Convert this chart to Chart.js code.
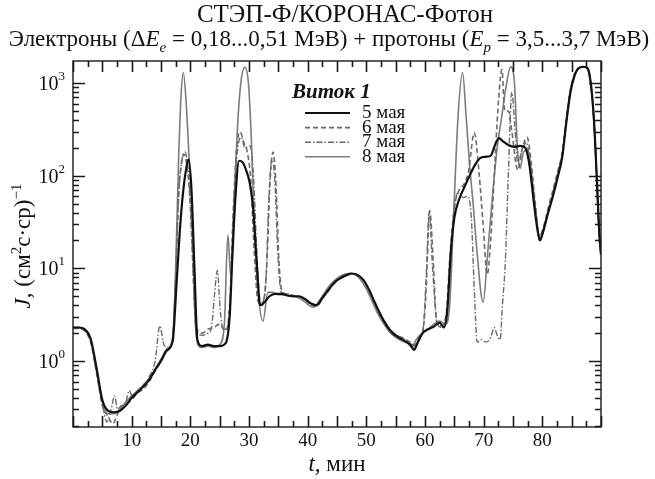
<!DOCTYPE html>
<html>
<head>
<meta charset="utf-8">
<script src="https://cdn.jsdelivr.net/npm/chart.js@4"></script>
<style>
  body { margin: 0; background: #fff; }
  canvas { display: block; }
</style>
</head>
<body>
<canvas id="flux" width="655" height="479"></canvas>
<script>
/* orbit 1, flux J vs time t (min) for four days */
const seriesNames = ['5 мая', '6 мая', '7 мая', '8 мая'];
const xTickLabels = [10, 20, 30, 40, 50, 60, 70, 80];
const yTickDecades = [0, 1, 2, 3];

const t_may5 = [0,1,2,3,4,5,6,7,8,9,10,11,12,13,14,15,16,17,17.6,18.2,18.8,19.3,19.7,20.2,20.7,21.2,22,23,24,25,26,26.7,27.2,27.7,28.3,28.9,29.5,30.1,30.7,31.3,31.9,32.6,33.5,34.5,35.5,36.5,37.5,38.5,39.5,40.5,41.5,42.5,43.5,44.5,45.5,46.5,47.5,48.5,49.5,50.5,51.5,52.5,53.5,54.5,55.5,56.5,57.5,58.1,58.8,59.6,60.5,61.5,62.5,63.2,63.8,64.4,65,65.8,66.7,67.6,68.5,69.4,70.3,71.2,72,72.6,73.3,74.2,75.2,76.2,77.1,77.8,78.5,79.1,79.6,80.2,81,81.8,82.6,83.4,84.1,84.8,85.5,86.2,87,87.7,88.3,88.8,89.3,89.7,90];
const j_may5 = [2.3,2.3,2.2,1.75,0.85,0.38,0.29,0.28,0.29,0.33,0.4,0.46,0.53,0.63,0.8,1.0,1.3,1.65,6,25,70,120,150,70,10,1.7,1.45,1.5,1.45,1.45,1.55,3,15,60,145,140,115,85,45,12,4,4.3,5,5.3,5.3,5.1,5,5,4.7,4.2,4,4.8,5.8,7,7.8,8.4,8.8,8.5,7.5,5.8,4.2,3.1,2.4,2.0,1.8,1.65,1.5,1.32,1.6,2.0,2.2,2.35,2.6,2.3,3.5,15,35,55,75,100,130,155,160,165,220,255,235,215,205,210,200,130,55,28,20,26,40,60,95,160,380,800,1200,1450,1500,1450,950,400,90,25,14];

const t_may6 = [0,1,2,3,4,5,6,6.8,7.5,8,9,10,11,12,13,14,15,16,17,17.5,18,18.5,18.9,19.4,19.9,20.4,20.9,21.4,22,23,24,25,26,26.7,27.3,27.9,28.5,29.1,29.7,30.3,30.9,31.5,32.3,33,33.6,34.1,34.6,35.1,35.7,36.5,37.5,38.5,39.5,40.5,41.5,42.5,43.5,44.5,45.5,46.5,47.5,48.5,49.5,50.5,51.5,52.5,53.5,54.5,55.5,56.5,57.5,58.3,59,59.7,60.2,60.8,61.4,62,62.8,63.6,64.3,65,65.8,66.6,67.4,68.4,69.2,69.9,70.6,71.2,71.8,72.5,73.1,73.6,74.2,74.8,75.8,76.6,77.4,78.1,78.8,79.5,80.2,81,81.8,82.6,83.4,84.1,84.8,85.5,86.2,87,87.7,88.3,88.8,89.3,89.7,90];
const j_may6 = [2.25,2.25,2.1,1.6,0.75,0.33,0.25,0.21,0.26,0.3,0.34,0.38,0.45,0.5,0.6,0.78,1.0,1.3,1.7,8,60,140,170,130,60,12,2.5,2.1,2.0,2.2,2.3,2.5,2.1,4,40,200,296,230,180,90,15,4.5,4,10,90,180,80,12,5.5,5.3,5.1,5,4.6,4.1,3.9,4.7,5.7,6.8,7.7,8.3,8.7,8.4,7.4,5.7,4.1,3.0,2.4,2.0,1.85,1.75,1.6,1.5,1.75,2.2,6,42,12,2.6,2.4,3.2,15,45,70,80,110,290,110,30,8.6,20,100,600,1400,500,500,300,115,200,260,140,50,22,28,45,70,110,180,420,850,1250,1450,1500,1450,950,380,85,22,14];

const t_may7 = [0,1,2,3,4,5,5.8,6.5,7.1,7.6,8.2,9,9.6,10.2,11,12,13,14,14.8,15.5,16.2,17,17.5,18,18.6,19.1,19.6,20.1,20.6,21.1,22,23,23.6,24.1,24.6,25.1,25.6,26.3,26.9,27.5,28.1,28.7,29.3,30.2,30.8,31.4,32,32.8,33.4,33.9,34.4,34.9,35.5,36.5,37.5,38.5,39.5,40.5,41.5,42.5,43.5,44.5,45.5,46.5,47.5,48.5,49.5,50.5,51.5,52.5,53.5,54.5,55.5,56.5,57.5,58.3,59,59.7,60.2,60.7,61.3,62,62.8,63.6,64.3,65,65.7,66.5,67.3,67.9,68.4,68.9,69.6,70.4,71.2,71.8,72.3,72.8,73.2,73.7,74.2,74.8,75.3,75.8,76.6,77.3,78,78.8,79.5,80.2,81,81.8,82.6,83.4,84.1,84.8,85.5,86.2,87,87.7,88.3,88.8,89.3,89.7,90];
const j_may7 = [2.25,2.25,2.15,1.65,0.8,0.35,0.22,0.3,0.42,0.3,0.33,0.36,0.48,0.4,0.48,0.55,0.68,1.0,2.4,1.5,1.4,1.8,8,60,150,180,120,40,6,2.2,1.9,2.0,2.3,5,9.5,3.5,2.2,2.3,6,60,200,260,200,210,90,12,4.2,6,60,150,90,15,5.5,5.3,5.1,4.9,4.6,4.1,3.9,4.7,5.7,6.9,7.8,8.4,8.8,8.5,7.5,5.8,4.2,3.1,2.45,2.05,1.85,1.7,1.55,1.45,1.8,2.3,8,40,10,2.7,2.3,3,12,45,66,58,60,35,6,1.6,1.7,1.6,1.8,2.3,1.9,1.7,4,12,100,800,350,140,190,230,120,45,22,27,42,65,105,175,400,830,1230,1440,1500,1440,930,390,88,22,14];

const t_may8 = [0,1,2,3,4,5,6,7,8,9,10,11,12,13,14,15,16,17,17.5,18,18.4,18.8,19.3,19.8,20.3,20.8,21.3,22,23,24,25,25.8,26.4,26.9,27.4,28,28.6,29.3,29.9,30.4,30.9,31.5,32.4,33.2,34,35,36,37,38,39,40,41,42,43,44,45,46,47,48,49,50,51,52,53,54,55,56,57,57.8,58.5,59.5,60.5,61.5,62.5,63.5,64.2,64.9,65.6,66.4,67,67.6,68.2,68.8,69.9,70.7,71.5,72.3,73,73.8,74.6,75.2,75.8,76.2,76.8,77.5,78.2,78.8,79.5,80.2,81,81.8,82.6,83.4,84.1,84.8,85.5,86.2,87,87.7,88.3,88.8,89.3,89.7,90];
const j_may8 = [2.3,2.3,2.2,1.7,0.8,0.36,0.27,0.27,0.3,0.36,0.42,0.48,0.55,0.65,0.82,1.05,1.35,1.8,10,150,700,1300,600,150,40,3,1.5,1.4,1.45,1.4,1.5,2.5,23,8,40,300,1000,1480,1000,250,30,6,2.7,5.5,5.5,5.2,5.2,5,4.9,4.6,4.1,3.8,4.5,5.6,6.8,7.8,8.5,8.8,8.6,7.6,6,4.4,3.2,2.5,2.05,1.8,1.65,1.55,1.4,1.7,2.0,2.2,2.5,2.7,2.5,4,40,400,1300,450,130,50,17,4.3,15,60,200,400,900,1500,1100,180,120,180,190,100,45,20,25,40,62,100,170,400,850,1250,1450,1500,1430,900,380,85,22,14];

const times = [t_may5, t_may6, t_may7, t_may8];
const fluxes = [j_may5, j_may6, j_may7, j_may8];
const lineColors = ['#111111', '#6a6a6a', '#6a6a6a', '#7c7c7c'];
const lineWidths = [2.2, 1.6, 1.4, 1.6];
const lineDashes = [[], [5, 3], [6, 2, 1.5, 2], []];

const SERIF = '"Liberation Serif", "Times New Roman", serif';
const AXIS = '#1a1a1a';

function runs(ctx, parts, x, y, align) {
    let w = 0;
    parts.forEach(p => { ctx.font = p.f; w += ctx.measureText(p.s).width; });
    let cx = align === 'center' ? x - w / 2 : (align === 'right' ? x - w : x);
    parts.forEach(p => {
        ctx.font = p.f;
        ctx.fillText(p.s, cx, y + (p.dy || 0));
        cx += ctx.measureText(p.s).width;
    });
}

const decor = {
    id: 'decor',
    afterDraw(chart) {
        const ctx = chart.ctx;
        const a = chart.chartArea;
        const xs = chart.scales.x, ys = chart.scales.y;
        ctx.save();
        ctx.setLineDash([]);
        ctx.strokeStyle = AXIS;
        ctx.lineWidth = 1.4;
        ctx.strokeRect(a.left, a.top, a.right - a.left, a.bottom - a.top);

        // inward tick marks, all four sides
        ctx.lineWidth = 1.6;
        ctx.beginPath();
        for (let t = 0; t <= 90; t += 2.5) {
            const px = Math.round(xs.getPixelForValue(t)) + 0.5;
            const len = t % 5 === 0 ? 11 : 6;
            ctx.moveTo(px, a.bottom); ctx.lineTo(px, a.bottom - len);
            ctx.moveTo(px, a.top); ctx.lineTo(px, a.top + len);
        }
        for (let e = -1; e <= 3; e++) {
            for (let m = 1; m <= 9; m++) {
                const v = m * Math.pow(10, e);
                if (v < ys.min || v > ys.max) continue;
                const py = Math.round(ys.getPixelForValue(v)) + 0.5;
                const len = m === 1 ? 12 : 6;
                ctx.moveTo(a.left, py); ctx.lineTo(a.left + len, py);
                ctx.moveTo(a.right, py); ctx.lineTo(a.right - len, py);
            }
        }
        ctx.stroke();

        ctx.fillStyle = '#111';
        ctx.textBaseline = 'alphabetic';
        ctx.textAlign = 'left';

        // y tick labels 10^n
        yTickDecades.forEach(e => {
            const py = ys.getPixelForValue(Math.pow(10, e));
            runs(ctx, [
                { s: '10', f: '20px ' + SERIF },
                { s: String(e), f: '13px ' + SERIF, dy: -10 }
            ], a.left - 8, py + 7, 'right');
        });

        // title
        runs(ctx, [{ s: 'СТЭП-Ф/КОРОНАС-Фотон', f: '25px ' + SERIF }], 345, 22, 'center');
        const F = '23px ' + SERIF, FI = 'italic 23px ' + SERIF, FS = 'italic 15px ' + SERIF;
        runs(ctx, [
            { s: 'Электроны (Δ', f: F },
            { s: 'E', f: FI },
            { s: 'e', f: FS, dy: 6 },
            { s: ' = 0,18...0,51 МэВ) + протоны (', f: F },
            { s: 'E', f: FI },
            { s: 'p', f: FS, dy: 6 },
            { s: ' = 3,5...3,7 МэВ)', f: F }
        ], 329, 46, 'center');

        // x axis title
        runs(ctx, [
            { s: 't', f: 'italic 23px ' + SERIF },
            { s: ', мин', f: '23px ' + SERIF }
        ], (a.left + a.right) / 2, 471, 'center');

        // y axis title, rotated
        ctx.save();
        ctx.translate(23, (a.top + a.bottom) / 2 + 2);
        ctx.rotate(-Math.PI / 2);
        runs(ctx, [
            { s: 'J', f: 'italic 23px ' + SERIF },
            { s: ', (см', f: '23px ' + SERIF },
            { s: '2', f: '15px ' + SERIF, dy: -9 },
            { s: 'с·ср)', f: '23px ' + SERIF },
            { s: '−1', f: '15px ' + SERIF, dy: -9 }
        ], 0, 7, 'center');
        ctx.restore();

        // legend inside the plot
        runs(ctx, [{ s: 'Виток 1', f: 'italic bold 21px ' + SERIF }], 292, 98, 'left');
        chart.data.datasets.forEach((ds, i) => {
            const ly = 113 + i * 14.6;
            ctx.save();
            ctx.strokeStyle = ds.borderColor;
            ctx.lineWidth = ds.borderWidth;
            ctx.setLineDash(ds.borderDash);
            ctx.beginPath();
            ctx.moveTo(305, ly); ctx.lineTo(350, ly);
            ctx.stroke();
            ctx.restore();
            runs(ctx, [{ s: ds.label, f: '19px ' + SERIF }], 362, ly + 5, 'left');
        });
        ctx.restore();
    }
};

const datasets = seriesNames.map((name, i) => ({
    label: name,
    data: times[i].map((t, k) => ({ x: t, y: fluxes[i][k] })),
    borderColor: lineColors[i],
    borderWidth: lineWidths[i],
    borderDash: lineDashes[i],
    pointRadius: 0,
    fill: false,
    cubicInterpolationMode: 'monotone'
}));

const ctx_flux = document.getElementById('flux').getContext('2d');
const fluxChart = new Chart(ctx_flux, {
    type: 'line',
    data: { datasets: datasets },
    options: {
        responsive: false,
        animation: false,
        layout: { padding: { top: 61, right: 54, left: 0, bottom: 0 } },
        plugins: {
            legend: { display: false },
            title: { display: false },
            tooltip: { enabled: false }
        },
        scales: {
            x: {
                type: 'linear',
                min: 0,
                max: 90,
                afterFit: s => { s.height = 52; },
                afterBuildTicks: s => { s.ticks = xTickLabels.map(v => ({ value: v })); },
                grid: { display: false, drawTicks: false },
                border: { display: false },
                ticks: {
                    autoSkip: false,
                    maxRotation: 0,
                    padding: 3,
                    color: '#111',
                    font: { family: SERIF, size: 19 }
                }
            },
            y: {
                type: 'logarithmic',
                min: 0.194,
                max: 1730,
                afterFit: s => { s.width = 73; },
                grid: { display: false, drawTicks: false },
                border: { display: false },
                ticks: { display: false }
            }
        }
    },
    plugins: [decor]
});
</script>
</body>
</html>
